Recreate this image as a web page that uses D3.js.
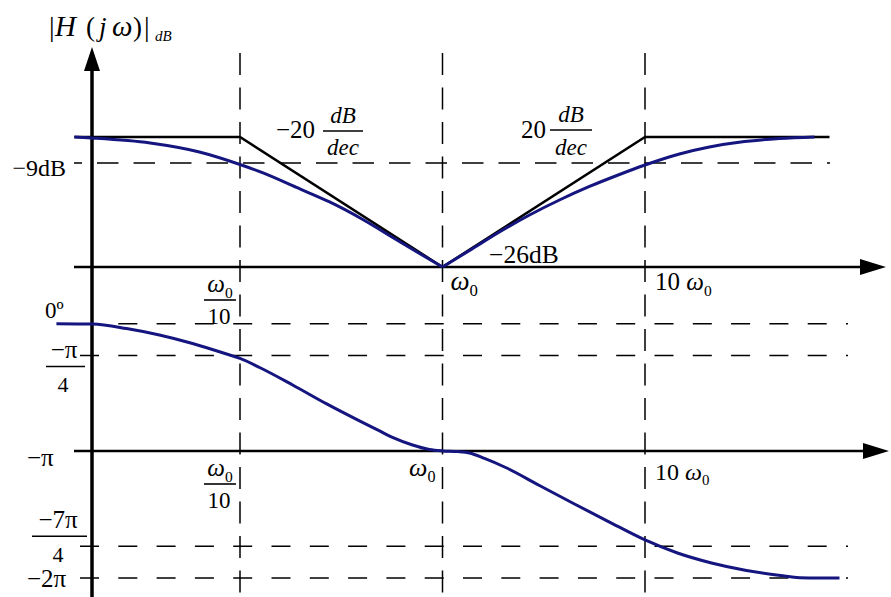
<!DOCTYPE html>
<html>
<head>
<meta charset="utf-8">
<script src="https://cdn.jsdelivr.net/npm/d3@7"></script>
<style>
  body { margin: 0; background: #fff; }
  svg { display: block; }
</style>
</head>
<body>
<script>
// Frequencies are in units of ω0 (log axis); magnitude in dB; phase in degrees.
const freqMarks = [0.1, 1, 10];

// Magnitude panel
const magRefLevels = [-9];          // dashed reference level, dB
const magAxisDb = -26;              // horizontal axis of the magnitude plot
const asymFreq = [0.0152, 0.1, 1, 10, 81.5];
const asymDb   = [-4.75, -4.75, -26, -4.75, -4.75];
const magFreqLow  = [0.0152, 0.0185, 0.036, 0.063, 0.1, 0.13, 0.19, 0.277, 0.40, 0.59, 0.77, 1];
const magDbLow    = [-4.75, -4.91, -5.73, -7.2, -9.25, -10.63, -13.0, -15.37, -18.15, -21.5, -23.8, -26];
const magFreqHigh = [1, 1.36, 1.91, 2.69, 3.78, 5.32, 7.48, 10, 14.8, 20.8, 31.0, 46.2, 68.7];
const magDbHigh   = [-26, -23.3, -20.28, -17.5, -15.05, -12.84, -10.88, -9.33, -7.53, -6.39, -5.49, -5.0, -4.75];

// Phase panel
const phaseLevels = [0, -45, -180, -315, -360];
const phaseAxisDeg = -180;
const phaseFreq = [0.0124, 0.0187, 0.0275, 0.040, 0.0583, 0.0858, 0.1, 0.125, 0.182, 0.268, 0.389,
                   0.489, 0.566, 0.711, 0.863, 1, 1.186, 1.359, 1.612, 2.024, 3.013, 4.436, 6.604,
                   10, 14.47, 21.3, 31.7, 46.7, 58, 72.7, 91.3];
const phaseDeg  = [0, -0.5, -6.8, -16, -28, -42.9, -49.2, -62, -86.7, -113.5, -137.5,
                   -151.7, -161, -171.6, -178, -180, -181, -183, -190.7, -202.8, -229, -254.4, -280,
                   -306, -324.5, -338.6, -349.2, -356.3, -359.5, -360, -360];

const W = 891, H = 597;
const axisX = 92;
const navy = "#151580";
const serif = "'Liberation Serif', 'Times New Roman', Times, 'DejaVu Serif', serif";

const svg = d3.select("body").append("svg").attr("width", W).attr("height", H)
  .attr("font-family", serif);

const x = d3.scaleLog().domain([0.1, 10]).range([240, 645]);
const yMag = d3.scaleLinear().domain([-26, -9]).range([267, 163]);
const yPh = d3.scaleLinear().domain([0, -360]).range([323.7, 578.1]);

// ---- dashed guide lines ----
const guides = svg.append("g").attr("stroke", "#000").attr("stroke-width", 1.5).attr("fill", "none");
freqMarks.forEach(f => {
  guides.append("line").attr("x1", x(f)).attr("x2", x(f)).attr("y1", 53).attr("y2", H)
    .attr("stroke-dasharray", "22,12.5");
});
magRefLevels.forEach(v => {
  guides.append("line").attr("x1", 74).attr("x2", 830).attr("y1", yMag(v)).attr("y2", yMag(v))
    .attr("stroke-dasharray", "21.5,15").attr("stroke-dashoffset", 13.5);
});
phaseLevels.filter(v => v !== phaseAxisDeg).forEach(v => {
  guides.append("line").attr("x1", 80).attr("x2", 848).attr("y1", yPh(v)).attr("y2", yPh(v))
    .attr("stroke-dasharray", "19,19.3");
});

// ---- axes ----
const axes = svg.append("g").attr("stroke", "#000");
axes.append("line").attr("x1", axisX).attr("x2", axisX).attr("y1", H).attr("y2", 66).attr("stroke-width", 3.5);
axes.append("path").attr("d", `M${axisX},47 L${axisX - 8},71 L${axisX + 8},71 Z`).attr("fill", "#000").attr("stroke", "none");

function hAxis(y, tip) {
  axes.append("line").attr("x1", 74).attr("x2", tip - 20).attr("y1", y).attr("y2", y).attr("stroke-width", 2.5);
  axes.append("path").attr("d", `M${tip},${y} L${tip - 26},${y - 8} L${tip - 26},${y + 8} Z`)
    .attr("fill", "#000").attr("stroke", "none");
}
hAxis(yMag(magAxisDb), 886);
hAxis(yPh(phaseAxisDeg), 889);

// ---- asymptotes ----
svg.append("path")
  .datum(asymFreq.map((f, i) => [f, asymDb[i]]))
  .attr("fill", "none").attr("stroke", "#000").attr("stroke-width", 2.5)
  .attr("stroke-linejoin", "miter")
  .attr("d", d3.line().x(d => x(d[0])).y(d => yMag(d[1])));

// ---- magnitude curve (two branches meeting at the notch) ----
const magLine = d3.line().x(d => x(d[0])).y(d => yMag(d[1])).curve(d3.curveMonotoneX);
[[magFreqLow, magDbLow], [magFreqHigh, magDbHigh]].forEach(([fs, vs]) => {
  svg.append("path")
    .datum(fs.map((f, i) => [f, vs[i]]))
    .attr("fill", "none").attr("stroke", navy).attr("stroke-width", 3)
    .attr("d", magLine);
});

// ---- phase curve ----
svg.append("path")
  .datum(phaseFreq.map((f, i) => [f, phaseDeg[i]]))
  .attr("fill", "none").attr("stroke", navy).attr("stroke-width", 3)
  .attr("d", d3.line().x(d => x(d[0])).y(d => yPh(d[1])).curve(d3.curveMonotoneX));

// ---- text helpers ----
const T = svg.append("g").attr("fill", "#000");
function txt(xp, yp, s, size, opts = {}) {
  const t = T.append("text").attr("x", xp).attr("y", yp).attr("font-size", size)
    .attr("text-anchor", opts.anchor || "start");
  if (opts.italic) t.attr("font-style", "italic");
  t.text(s);
  return t;
}
function bar(x1, x2, y) {
  T.append("line").attr("x1", x1).attr("x2", x2).attr("y1", y).attr("y2", y)
    .attr("stroke", "#000").attr("stroke-width", 1.6);
}
// ω with subscript 0
function omega0(xp, yp, size, anchor, prefix) {
  const t = T.append("text").attr("x", xp).attr("y", yp).attr("font-size", size)
    .attr("text-anchor", anchor || "start");
  if (prefix) t.append("tspan").text(prefix);
  t.append("tspan").attr("font-style", "italic").text("ω");
  t.append("tspan").attr("font-size", size * 0.62).attr("dy", size * 0.22).text("0");
  return t;
}
function omegaOver10(cx, yTop) {
  omega0(cx, yTop, 25, "middle");
  bar(cx - 16, cx + 16, yTop + 8);
  txt(cx - 1, yTop + 32, "10", 23, { anchor: "middle" });
}

// y-axis title |H( jω)|dB
txt(49, 36, "|", 28);
txt(55, 36, "H", 29, { italic: true });
txt(86, 36, "(", 27);
txt(99, 36, "j", 27, { italic: true });
txt(112, 36, "ω", 29, { italic: true });
txt(133, 36, ")", 27);
txt(144, 36, "|", 28);
txt(155, 41, "dB", 15, { italic: true });

// magnitude labels
txt(66, yMag(-9) + 13, "−9dB", 24, { anchor: "end" });
txt(489, yMag(magAxisDb) - 4, "−26dB", 25.5);

// slope annotations
txt(276, 138, "−20", 25);
txt(343, 123, "dB", 23, { anchor: "middle", italic: true });
bar(323, 363, 131);
txt(343, 155, "dec", 23, { anchor: "middle", italic: true });

txt(521, 138, "20", 25);
txt(571, 122, "dB", 23, { anchor: "middle", italic: true });
bar(550, 592, 130);
txt(571, 155, "dec", 23, { anchor: "middle", italic: true });

// frequency labels — magnitude panel
omegaOver10(x(0.1) - 20, 292);
omega0(x(1) + 8, 290, 27, "start");
omega0(x(10) + 10, 290, 25, "start", "10 ");

// frequency labels — phase panel
omegaOver10(x(0.1) - 20, 476);
omega0(x(1) - 7, 476, 26, "end");
omega0(x(10) + 10, 480, 24, "start", "10 ");

// phase labels
txt(45, yPh(0) - 6, "0º", 23);
txt(64, yPh(-45) + 2, "−π", 25, { anchor: "middle" });
bar(46, 85, yPh(-45) + 11);
txt(63, yPh(-45) + 36, "4", 22, { anchor: "middle" });
txt(27, yPh(-180) + 15, "−π", 25);
txt(58, yPh(-315) - 18, "−7π", 25, { anchor: "middle" });
bar(32, 87, yPh(-315) - 10);
txt(58, yPh(-315) + 16, "4", 22, { anchor: "middle" });
txt(27, yPh(-360) + 9, "−2π", 25);
</script>
</body>
</html>
